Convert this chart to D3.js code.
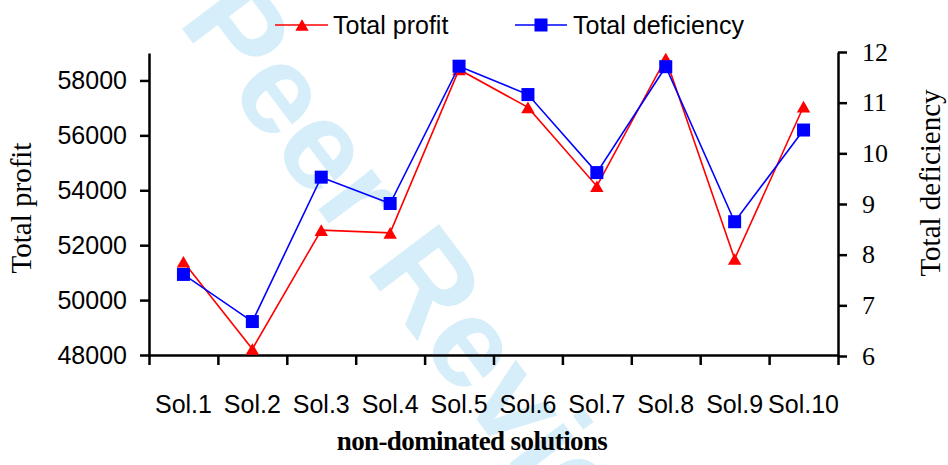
<!DOCTYPE html>
<html>
<head>
<meta charset="utf-8">
<script src="https://d3js.org/d3.v7.min.js"></script>
<style>
body { margin: 0; background: #fff; }
svg { display: block; }
.axis path, .axis line { stroke: #000; stroke-width: 2.5; }
</style>
</head>
<body>
<div id="chart"></div>
<script>
var categories = ["Sol.1", "Sol.2", "Sol.3", "Sol.4", "Sol.5", "Sol.6", "Sol.7", "Sol.8", "Sol.9", "Sol.10"];
var totalProfit = [51400, 48220, 52550, 52450, 58400, 57020, 54150, 58800, 51500, 57050];
var totalDeficiency = [7.61, 6.68, 9.53, 9.01, 11.72, 11.16, 9.62, 11.71, 8.65, 10.46];
var profitTicks = [48000, 50000, 52000, 54000, 56000, 58000];
var deficiencyTicks = [6, 7, 8, 9, 10, 11, 12];

var width = 948,
    height = 465;
var plotLeft = 149, plotRight = 838, plotTop = 53, plotBottom = 355;

var sansFont = "'Liberation Sans', Arial, sans-serif";
var serifFont = "'Liberation Serif', 'Times New Roman', serif";

var svg = d3.select("#chart").append("svg")
    .attr("width", width)
    .attr("height", height);

// watermark behind everything
svg.append("text")
    .attr("transform", "translate(177,22) rotate(53)")
    .attr("font-family", sansFont)
    .attr("font-weight", "bold")
    .attr("font-size", 127)
    .attr("fill", "#d5eefa")
    .text("Peer Review");

var x = d3.scaleBand().domain(categories).range([plotLeft, plotRight]);
var xEdges = d3.scaleLinear().domain([0, categories.length]).range([plotLeft, plotRight]);
var yLeft = d3.scaleLinear().domain([48000, 59000]).range([plotBottom, plotTop]);
var yRight = d3.scaleLinear().domain([6, 12]).range([plotBottom + 1, plotTop - 1]);

var xMid = function(d, i) { return x(categories[i]) + x.bandwidth() / 2; };

// bottom axis, ticks sit on the category boundaries
svg.append("g")
    .attr("class", "axis")
    .attr("transform", "translate(0," + plotBottom + ")")
    .call(d3.axisBottom(xEdges).tickValues(d3.range(categories.length + 1)).tickSize(10).tickSizeOuter(0).tickFormat(""));

// category labels
var xLab = svg.append("g")
    .attr("transform", "translate(0," + plotBottom + ")")
    .call(d3.axisBottom(x).tickSize(0).tickPadding(58));
xLab.select(".domain").remove();
xLab.selectAll("text")
    .attr("font-family", sansFont)
    .attr("font-size", 25)
    .attr("fill", "#000")
    .attr("dy", "0");

// left axis
var leftAxis = svg.append("g")
    .attr("class", "axis")
    .attr("transform", "translate(" + plotLeft + ",0)")
    .call(d3.axisLeft(yLeft).tickValues(profitTicks).tickSize(9).tickSizeOuter(0).tickPadding(13).tickFormat(d3.format("d")));
leftAxis.selectAll("text")
    .attr("font-family", sansFont)
    .attr("font-size", 25)
    .attr("fill", "#000");

// right axis
var rightAxis = svg.append("g")
    .attr("class", "axis")
    .attr("transform", "translate(" + plotRight + ",0)")
    .call(d3.axisRight(yRight).tickValues(deficiencyTicks).tickSize(9).tickSizeOuter(0).tickPadding(15).tickFormat(d3.format("d")));
rightAxis.selectAll("text")
    .attr("font-family", serifFont)
    .attr("font-size", 26)
    .attr("fill", "#000");

// axis titles
svg.append("text")
    .attr("transform", "translate(31,208) rotate(-90)")
    .attr("text-anchor", "middle")
    .attr("font-family", serifFont)
    .attr("font-size", 29)
    .text("Total profit");

svg.append("text")
    .attr("transform", "translate(940,183) rotate(-90)")
    .attr("text-anchor", "middle")
    .attr("font-family", serifFont)
    .attr("font-size", 29)
    .text("Total deficiency");

svg.append("text")
    .attr("x", 472)
    .attr("y", 450)
    .attr("text-anchor", "middle")
    .attr("font-family", serifFont)
    .attr("font-weight", "bold")
    .attr("font-size", 27)
    .attr("letter-spacing", -0.6)
    .text("non-dominated solutions");

// profit series
var profitLine = d3.line()
    .x(xMid)
    .y(function(d) { return yLeft(d); });

svg.append("path")
    .datum(totalProfit)
    .attr("d", profitLine)
    .attr("fill", "none")
    .attr("stroke", "#ff0000")
    .attr("stroke-width", 1.6);

var triangle = d3.symbol().type(d3.symbolTriangle).size(78);

svg.selectAll(".tri")
    .data(totalProfit)
    .enter()
    .append("path")
    .attr("class", "tri")
    .attr("d", triangle)
    .attr("transform", function(d, i) { return "translate(" + xMid(d, i) + "," + (yLeft(d) + 2) + ")"; })
    .attr("fill", "#ff0000");

// deficiency series (secondary axis)
var deficiencyLine = d3.line()
    .x(xMid)
    .y(function(d) { return yRight(d); });

svg.append("path")
    .datum(totalDeficiency)
    .attr("d", deficiencyLine)
    .attr("fill", "none")
    .attr("stroke", "#0000ff")
    .attr("stroke-width", 1.6);

svg.selectAll(".sq")
    .data(totalDeficiency)
    .enter()
    .append("rect")
    .attr("class", "sq")
    .attr("x", function(d, i) { return xMid(d, i) - 6.5; })
    .attr("y", function(d) { return yRight(d) - 6.5; })
    .attr("width", 13)
    .attr("height", 13)
    .attr("fill", "#0000ff");

// legend
var legend = svg.append("g").attr("transform", "translate(0,25)");

legend.append("line")
    .attr("x1", 275).attr("x2", 328)
    .attr("stroke", "#ff0000").attr("stroke-width", 1.6);
legend.append("path")
    .attr("d", triangle)
    .attr("transform", "translate(302,2)")
    .attr("fill", "#ff0000");
legend.append("text")
    .attr("x", 333).attr("y", 9)
    .attr("font-family", sansFont)
    .attr("font-size", 25)
    .text("Total profit");

legend.append("line")
    .attr("x1", 515).attr("x2", 567)
    .attr("stroke", "#0000ff").attr("stroke-width", 1.6);
legend.append("rect")
    .attr("x", 534.5).attr("y", -6.5)
    .attr("width", 13).attr("height", 13)
    .attr("fill", "#0000ff");
legend.append("text")
    .attr("x", 573).attr("y", 9)
    .attr("font-family", sansFont)
    .attr("font-size", 25)
    .text("Total deficiency");
</script>
</body>
</html>
